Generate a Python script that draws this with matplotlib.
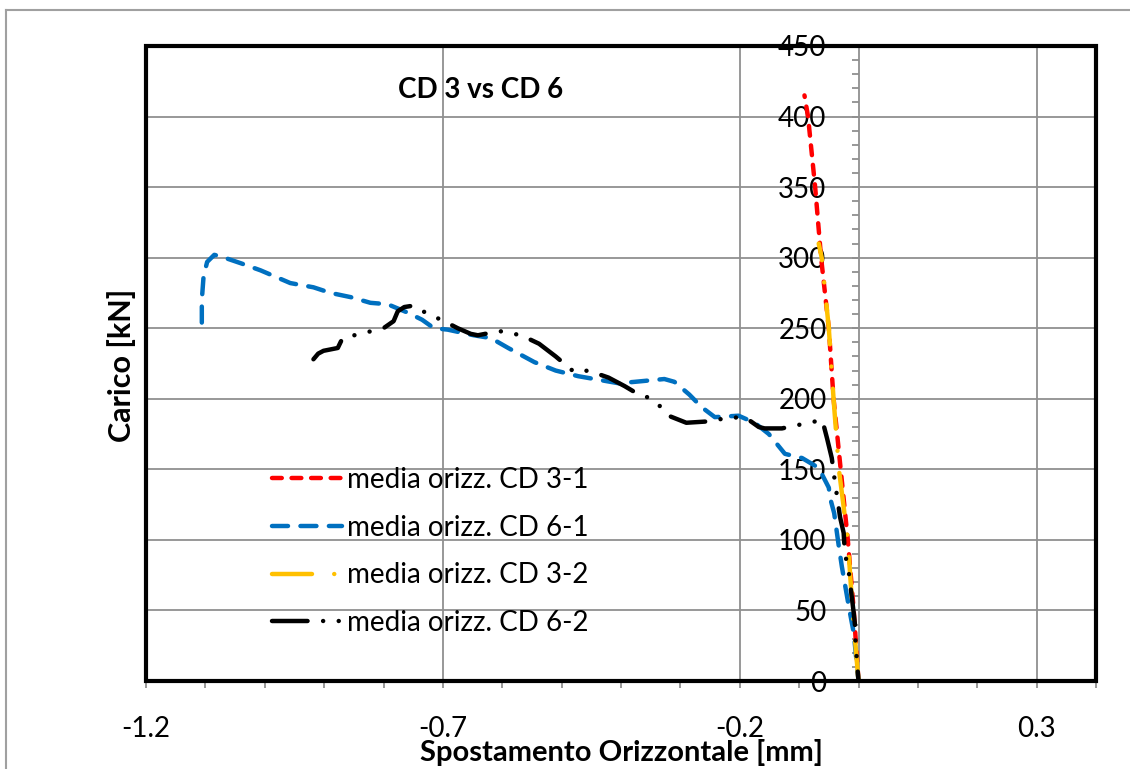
import numpy as np
import matplotlib
matplotlib.use("Agg")
import matplotlib.pyplot as plt
from matplotlib.ticker import FixedLocator, FixedFormatter
from matplotlib.patches import Rectangle
from matplotlib.lines import Line2D

plt.rcParams["font.family"] = ["Lato", "DejaVu Sans"]

# media orizz. CD 3-1 (red)
cd31_x = [0.0, -0.008, -0.018, -0.030, -0.042, -0.050, -0.063, -0.073, -0.085, -0.091]
cd31_y = [0, 50, 100, 150, 200, 250, 300, 350, 400, 415]

# media orizz. CD 6-1 (blue)
cd61_x = [-1.106, -1.106, -1.103, -1.097, -1.085, -1.075, -1.040, -1.007, -0.957,
          -0.918, -0.889, -0.855, -0.822, -0.793, -0.759, -0.735, -0.715, -0.692,
          -0.648, -0.619, -0.590, -0.546, -0.510, -0.472, -0.404, -0.377, -0.327,
          -0.310, -0.285, -0.264, -0.242, -0.202, -0.175, -0.151, -0.124, -0.095,
          -0.067, -0.050, -0.048, -0.041, -0.033, -0.028, -0.016, -0.008, 0.0]
cd61_y = [254, 270, 287, 297, 302, 301, 296, 291, 282,
          279, 275, 272, 268, 267, 261, 256, 250, 249,
          245, 243, 236, 226, 220, 216, 211, 212, 214,
          212, 203, 194, 187, 188, 183, 175, 161, 158,
          151, 137, 130, 119, 95, 81, 52, 34, 0]

# media orizz. CD 3-2 (yellow)
cd32_x = [0.0, -0.010, -0.018, -0.033, -0.042, -0.050, -0.062, -0.067]
cd32_y = [0, 50, 100, 150, 200, 250, 300, 310]

# media orizz. CD 6-2 (black)
cd62_x = [-0.918, -0.910, -0.901, -0.877, -0.869, -0.800, -0.783, -0.776, -0.765,
          -0.750, -0.729, -0.698, -0.675, -0.653, -0.641, -0.605, -0.568, -0.538,
          -0.510, -0.479, -0.455, -0.421, -0.394, -0.366, -0.354, -0.335, -0.320,
          -0.290, -0.252, -0.214, -0.188, -0.168, -0.158, -0.129, -0.095, -0.061,
          -0.053, -0.045, -0.040, -0.031, -0.025, -0.023, -0.016, -0.008, -0.006,
          -0.005, 0.0]
cd62_y = [228, 232, 234, 236, 243, 250, 255, 262, 265,
          266, 261, 255, 250, 246, 245, 248, 245, 239,
          230, 219, 220, 215, 209, 202, 201, 195, 188,
          183, 184, 187, 186, 180, 179, 179, 182, 185,
          172, 158, 142, 116, 105, 91, 76, 48, 40,
          27, 0]

labels = ["media orizz. CD 3-1", "media orizz. CD 6-1",
          "media orizz. CD 3-2", "media orizz. CD 6-2"]
x_major = [-1.2, -0.7, -0.2, 0.3]
x_tick_labels = ["-1.2", "-0.7", "-0.2", "0.3"]
y_major = [0, 50, 100, 150, 200, 250, 300, 350, 400, 450]

fig = plt.figure(figsize=(11.3, 7.69), dpi=100)
ax = fig.add_axes([146 / 1130, 1 - 681 / 769, 950 / 1130, 635 / 769])

lw = 3.2
ax.plot(cd31_x, cd31_y, color="#FF0000", lw=lw, dashes=(2.2, 2.2),
        dash_capstyle="round", label=labels[0], zorder=3)
ax.plot(cd61_x, cd61_y, color="#0070C0", lw=lw, dashes=(3.6, 2.8),
        dash_capstyle="round", label=labels[1], zorder=3)
ax.plot(cd32_x, cd32_y, color="#FFC000", lw=lw, dashes=(9, 5, 0.01, 5),
        dash_capstyle="round", label=labels[2], zorder=4)
ax.plot(cd62_x, cd62_y, color="black", lw=lw, dashes=(8, 3.5, 0.01, 3.5, 0.01, 3.5),
        dash_capstyle="round", label=labels[3], zorder=5)

ax.set_xlim(-1.2, 0.4)
ax.set_ylim(0, 450)

ax.xaxis.set_major_locator(FixedLocator(x_major))
ax.xaxis.set_major_formatter(FixedFormatter(x_tick_labels))
ax.xaxis.set_minor_locator(FixedLocator(np.round(np.arange(-1.2, 0.41, 0.1), 2)))
ax.yaxis.set_major_locator(FixedLocator(y_major))
ax.yaxis.set_minor_locator(FixedLocator(np.arange(0, 451, 10)))

ax.grid(True, which="major", color="#909090", lw=1.3, zorder=0)

for s in ["top", "right"]:
    ax.spines[s].set_visible(False)
ax.spines["left"].set_position(("data", 0))
ax.spines["left"].set_color("#909090")
ax.spines["left"].set_linewidth(1.3)
ax.spines["bottom"].set_color("#909090")
ax.spines["bottom"].set_linewidth(1.3)

ax.tick_params(axis="both", which="both", direction="out", color="#909090",
               width=1.3, length=5)
ax.tick_params(axis="y", which="major", labelsize=20, pad=18)
ax.tick_params(axis="x", which="major", labelsize=20, pad=20)

# thick black plot frame
ax.add_patch(Rectangle((0, 0), 1, 1, transform=ax.transAxes, fill=False,
                       edgecolor="black", lw=3.0, zorder=6, clip_on=False))

ax.text(0.352, 0.93, "CD 3 vs CD 6", transform=ax.transAxes, ha="center",
        va="center", fontsize=20, fontweight="bold")
fig.text(621 / 1130, 1 - 753 / 769, "Spostamento Orizzontale [mm]", ha="center",
         va="center", fontsize=21, fontweight="bold")
fig.text(122 / 1130, 1 - 365 / 769, "Carico [kN]", rotation=90, ha="center",
         va="center", fontsize=22, fontweight="bold")

ax.legend(loc="upper left", bbox_to_anchor=(115 / 950, 1 - (456 - 46) / 635),
          frameon=False, fontsize=20, handlelength=2.5, handletextpad=0.2,
          labelspacing=0.78, borderaxespad=0)

# outer chart border (top and left edges visible)
fig.add_artist(Line2D([6 / 1130, 6 / 1130], [0, 1 - 10 / 769], color="#A0A0A0",
                      lw=1.5, transform=fig.transFigure))
fig.add_artist(Line2D([6 / 1130, 1], [1 - 10 / 769, 1 - 10 / 769], color="#A0A0A0",
                      lw=1.5, transform=fig.transFigure))

fig.savefig("out.png", dpi=100)
